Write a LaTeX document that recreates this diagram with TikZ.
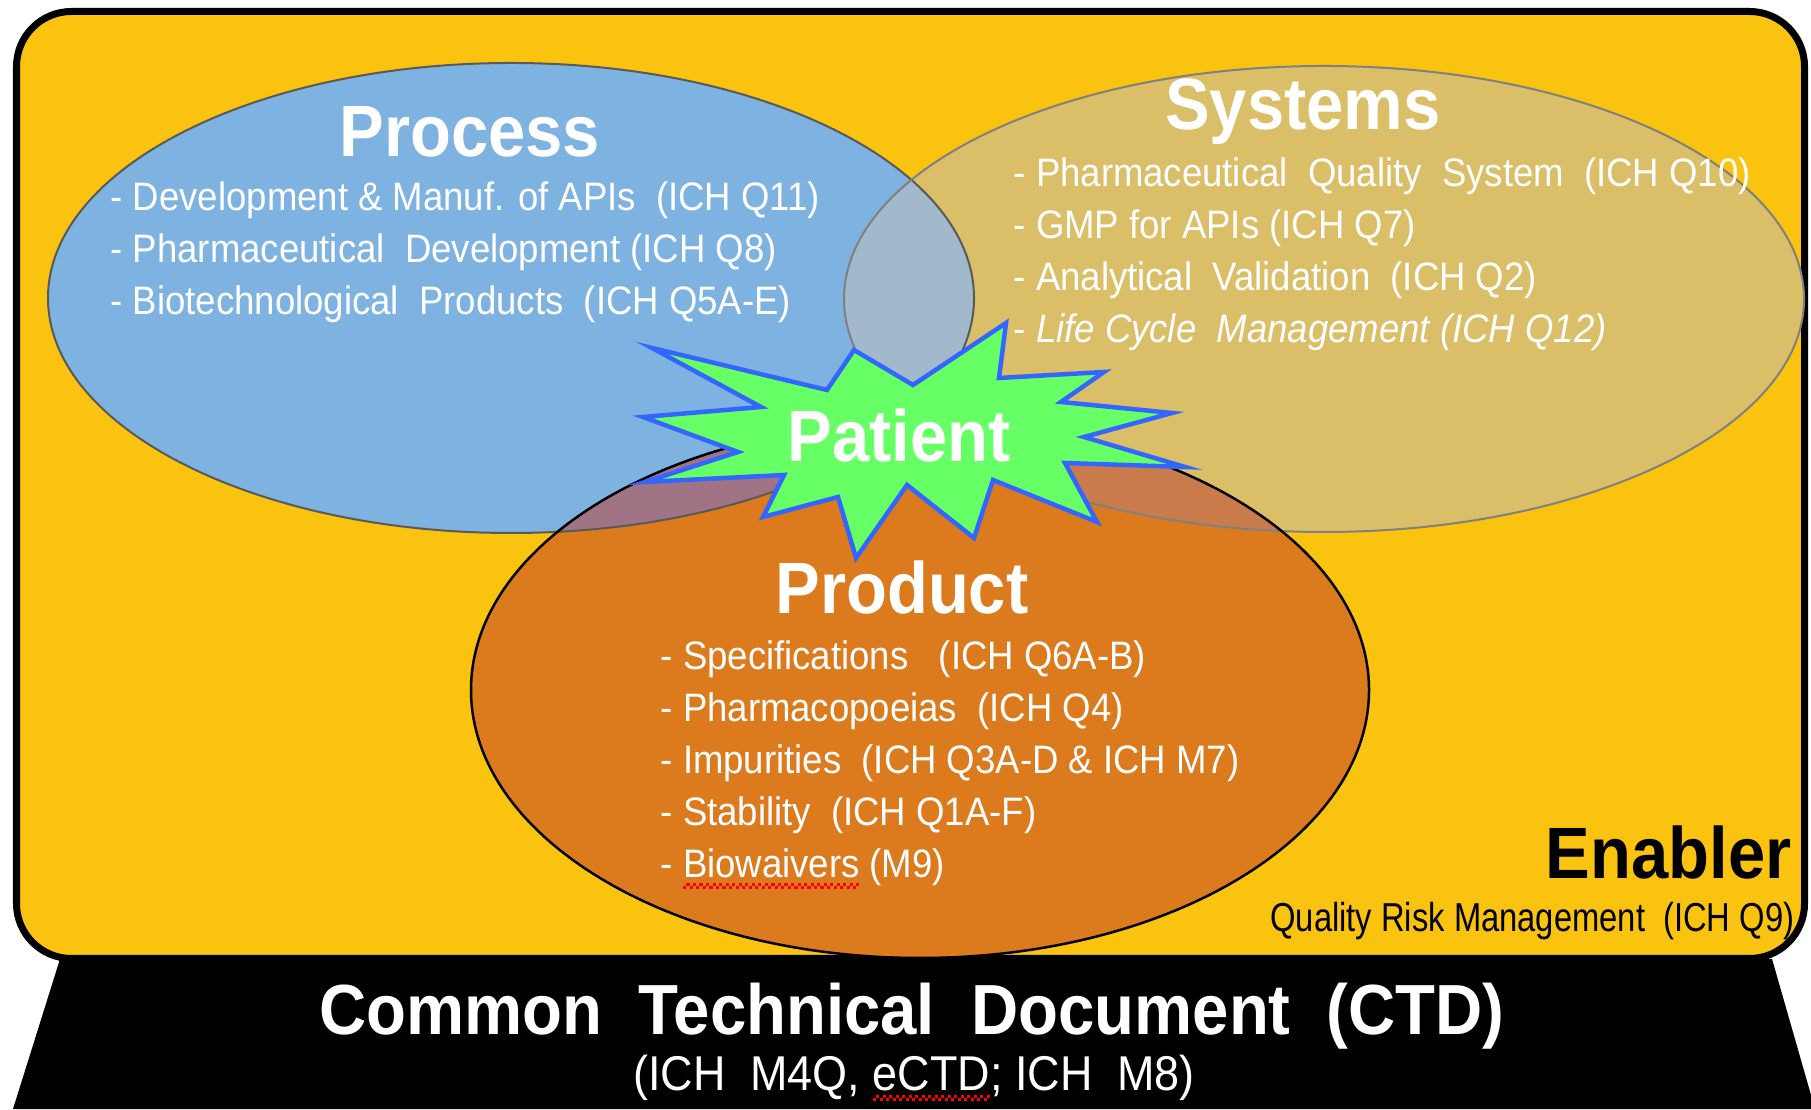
\documentclass[tikz,border=0pt]{standalone}
\usepackage{fontspec}
\setmainfont[FakeStretch=0.92]{Liberation Sans}
\newfontfamily\narrowfont[FakeStretch=0.81]{Liberation Sans}

\definecolor{boxyellow}{RGB}{249,195,15}
\definecolor{procblue}{RGB}{126,178,224}
\definecolor{systan}{RGB}{218,190,104}
\definecolor{prodorange}{RGB}{220,122,30}
\definecolor{lensps}{RGB}{162,185,203}
\definecolor{lenspp}{RGB}{160,116,133}
\definecolor{lenssp}{RGB}{201,123,75}
\definecolor{patgreen}{RGB}{102,255,102}
\definecolor{patblue}{RGB}{51,102,255}

\newcommand{\procell}{(5.11,8.11) ellipse [x radius=4.63, y radius=2.35]}
\newcommand{\sysell}{(13.24,8.10) ellipse [x radius=4.80, y radius=2.33]}
\newcommand{\prodell}{(9.20,4.19) ellipse [x radius=4.49, y radius=2.68]}
\newsavebox{\spellbox}
\newcommand{\spell}[1]{\leavevmode\sbox{\spellbox}{#1}%
    \rlap{\raisebox{-3.2pt}{\color{red}\hbox to \wd\spellbox{\xleaders\hbox{\rule{0.9pt}{0.9pt}\rule[0.8pt]{0.9pt}{0.9pt}}\hfill}}}#1}

\tikzset{
  title/.style={anchor=base, inner sep=0pt, text=white, font=\fontsize{20.7}{24}\selectfont\bfseries},
  item/.style={anchor=base west, inner sep=0pt, text=white, font=\fontsize{11.3}{14}\selectfont},
}

\begin{document}
\begin{tikzpicture}
    \useasboundingbox (0,0) rectangle (18.11,11.09);
    \fill[white] (0,0) rectangle (18.11,11.09);

    % base and frame
    \fill[black] (0.60,1.50) -- (17.72,1.50) -- (18.15,0) -- (0.13,0) -- cycle;
    \filldraw[fill=boxyellow, line width=0.07cm, rounded corners=0.55cm] (0.165,1.505) rectangle (18.045,10.975);

    % the three fields
    \fill[procblue] \procell;
    \fill[systan] \sysell;
    \fill[prodorange] \prodell;
    \begin{scope}
        \clip \procell;
        \fill[lensps] \sysell;
        \fill[lenspp] \prodell;
    \end{scope}
    \begin{scope}
        \clip \sysell;
        \fill[lenssp] \prodell;
    \end{scope}
    \draw[line width=0.02cm, black!65] \procell;
    \draw[line width=0.02cm, black!50] \sysell;
    \draw[line width=0.025cm, black] \prodell;

    % patient star
    \filldraw[fill=patgreen, draw=patblue, line width=0.045cm, line join=miter]
        (6.52,7.61) -- (8.27,7.19) -- (8.54,7.59) -- (9.13,7.24) -- (10.06,7.86) -- (9.99,7.31)
        -- (11.04,7.37) -- (10.61,7.07) -- (11.72,6.96) -- (10.84,6.72) -- (11.85,6.42) -- (10.65,6.46)
        -- (10.97,5.87) -- (9.93,6.29) -- (9.74,5.71) -- (9.07,6.24) -- (8.56,5.51) -- (8.38,6.12)
        -- (7.63,5.92) -- (7.84,6.34) -- (6.45,6.27) -- (7.38,6.57) -- (6.43,6.92) -- (7.61,7.02) -- cycle;
    \node[title] (patient) at (8.99,6.47) {Patient};

    % process
    \node[title] (process) at (4.70,9.52) {Process};
    \foreach \txt [count=\i] in {{- Development \& Manuf. of APIs\ \ (ICH Q11)},
                                 {- Pharmaceutical\ \ Development (ICH Q8)},
                                 {- Biotechnological\ \ Products\ \ (ICH Q5A-E)}}
        \node[item] (proc\i) at (1.10,8.98-0.52*\i+0.52) {\txt};

    % systems
    \node[title] (systems) at (13.03,9.79) {Systems};
    \foreach \txt [count=\i] in {{- Pharmaceutical\ \ Quality\ \ System\ \ (ICH Q10)},
                                 {- GMP for APIs (ICH Q7)},
                                 {- Analytical\ \ Validation\ \ (ICH Q2)},
                                 {- \textit{Life Cycle\ \ Management (ICH Q12)}}}
        \node[item] (sys\i) at (10.13,9.22-0.52*\i+0.52) {\txt};

    % product
    \node[title] (product) at (9.02,4.95) {Product};
    \foreach \txt [count=\i] in {{- Specifications\ \ \ (ICH Q6A-B)},
                                 {- Pharmacopoeias\ \ (ICH Q4)},
                                 {- Impurities\ \ (ICH Q3A-D \& ICH M7)},
                                 {- Stability\ \ (ICH Q1A-F)},
                                 {- \spell{Biowaivers} (M9)}}
        \node[item] (prod\i) at (6.60,4.39-0.52*\i+0.52) {\txt};

    % enabler
    \node[title, anchor=base east, text=black] (enabler) at (17.92,2.30) {Enabler};
    \node[anchor=base east, inner sep=0pt, font=\narrowfont\fontsize{11.5}{14}\selectfont] (qrm) at (17.95,1.77) {Quality Risk Management\ \ (ICH Q9)};

    % ctd
    \node[title, font=\fontsize{20.2}{24}\selectfont\bfseries] (ctd) at (9.12,0.75) {Common\ \ Technical\ \ Document\ \ (CTD)};
    \node[anchor=base, inner sep=0pt, text=white, font=\fontsize{13.9}{16}\selectfont] (ctdsub) at (9.14,0.19) {(ICH\ \ M4Q, \spell{eCTD}; ICH\ \ M8)};
\end{tikzpicture}
\end{document}
